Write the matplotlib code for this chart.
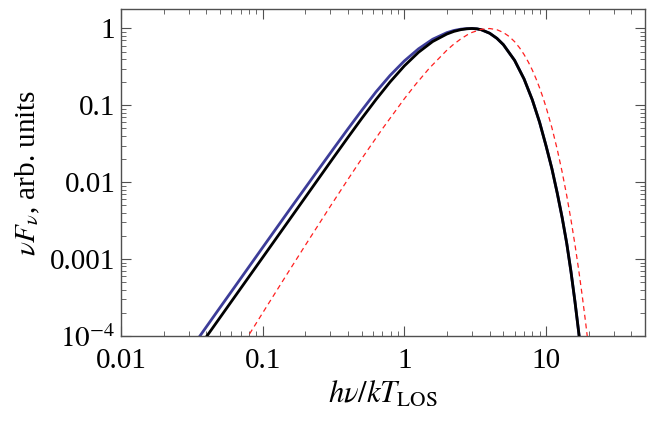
import matplotlib
matplotlib.use("Agg")
import matplotlib.pyplot as plt
from matplotlib.ticker import FixedLocator, FixedFormatter, LogLocator, NullFormatter

# ---- data ----
black_x = [0.0398, 0.0501, 0.0631, 0.1, 0.1585, 0.2512, 0.3162, 0.398, 0.501, 0.631,
           0.794, 1.0, 1.259, 1.585, 1.995, 2.239, 2.512, 2.754, 3.0, 3.25, 3.5, 4.0,
           4.5, 5.0, 6.0, 7.0, 8.0, 9.0, 10.0, 11.0, 12.0, 13.0, 14.0, 15.0, 16.0,
           17.0, 17.5]
black_y = [9.56e-5, 1.74e-4, 3.17e-4, 1.048e-3, 3.47e-3, 0.0115, 0.0209, 0.0378,
           0.0677, 0.119, 0.202, 0.326, 0.490, 0.677, 0.847, 0.917, 0.967, 0.991,
           1.0, 0.99, 0.962, 0.868, 0.745, 0.616, 0.385, 0.220, 0.118, 0.0605,
           0.0298, 0.0150, 7.2e-3, 3.45e-3, 1.6e-3, 6.85e-4, 2.8e-4, 1.12e-4, 7.0e-5]

blue_x = [0.0355, 0.0398, 0.0501, 0.0631, 0.1, 0.1585, 0.2512, 0.3162, 0.398, 0.501,
          0.631, 0.794, 1.0, 1.259, 1.585, 1.995, 2.239, 2.512, 2.754, 3.0, 3.25, 3.5,
          4.0, 4.5, 5.0, 6.0, 7.0, 8.0, 9.0, 10.0, 11.0, 12.0, 13.0, 14.0, 15.0,
          16.0, 17.0, 17.5]
blue_y = [9.56e-5, 1.29e-4, 2.35e-4, 4.27e-4, 1.414e-3, 4.66e-3, 0.01516, 0.02726,
          0.0488, 0.0862, 0.1498, 0.2457, 0.3784, 0.5439, 0.7252, 0.883, 0.943,
          0.981, 0.995, 1.0, 0.99, 0.962, 0.868, 0.745, 0.616, 0.385, 0.220, 0.118,
          0.0605, 0.0298, 0.0150, 7.2e-3, 3.45e-3, 1.6e-3, 6.85e-4, 2.8e-4, 1.12e-4,
          7.0e-5]

red_x = [0.075, 0.08, 0.1, 0.15, 0.2, 0.3, 0.4, 0.5, 0.7, 1.0, 1.2, 1.5, 2.0, 2.2,
         2.5, 2.8, 3.0, 3.5, 4.0, 4.5, 5.0, 5.5, 6.0, 6.5, 7.0, 7.5, 8.0, 8.5, 9.0,
         9.5, 10.0, 11.0, 12.0, 13.0, 14.0, 15.0, 16.0, 17.0, 18.0, 19.0, 20.0]
red_y = [8.5e-5, 1.03e-4, 1.99e-4, 6.54e-4, 1.51e-3, 4.84e-3, 0.01089, 0.0202,
         0.0495, 0.1218, 0.187, 0.304, 0.524, 0.611, 0.731, 0.833, 0.888, 0.977,
         0.999, 0.964, 0.887, 0.786, 0.674, 0.562, 0.458, 0.366, 0.288, 0.2222,
         0.1694, 0.1276, 0.095, 0.0512, 0.02666, 0.01351, 6.68e-3, 3.24e-3,
         1.543e-3, 7.23e-4, 3.34e-4, 1.53e-4, 6.9e-5]

x_ticks = [0.01, 0.1, 1, 10]
x_tick_labels = ["0.01", "0.1", "1", "10"]
y_ticks = [1e-4, 1e-3, 1e-2, 0.1, 1]
y_tick_labels = [r"$10^{-4}$", "0.001", "0.01", "0.1", "1"]

plt.rcParams['font.family'] = ['Liberation Serif', 'DejaVu Serif']
plt.rcParams['mathtext.fontset'] = 'stix'

fig = plt.figure(figsize=(6.47, 4.23), dpi=100)
ax = fig.add_axes([0.187, 0.206, 0.810, 0.773])

ax.plot(blue_x, blue_y, color='#3d3d99', lw=2.0, solid_capstyle='butt',
        solid_joinstyle='round', zorder=2)
ax.plot(black_x, black_y, color='black', lw=2.0, solid_capstyle='butt',
        solid_joinstyle='round', zorder=3)
ax.plot(red_x, red_y, color='#ff2020', lw=0.9, dashes=(4, 3), zorder=4)

ax.set_xscale('log')
ax.set_yscale('log')
ax.set_xlim(0.01, 50)
ax.set_ylim(1e-4, 1.8)

ax.xaxis.set_major_locator(FixedLocator(x_ticks))
ax.xaxis.set_major_formatter(FixedFormatter(x_tick_labels))
ax.yaxis.set_major_locator(FixedLocator(y_ticks))
ax.yaxis.set_major_formatter(FixedFormatter(y_tick_labels))
ax.xaxis.set_minor_locator(LogLocator(base=10, subs=range(2, 10)))
ax.yaxis.set_minor_locator(LogLocator(base=10, subs=range(2, 10)))
ax.xaxis.set_minor_formatter(NullFormatter())
ax.yaxis.set_minor_formatter(NullFormatter())

frame_col = '#505050'
for s in ax.spines.values():
    s.set_color(frame_col)
    s.set_linewidth(1.0)
ax.tick_params(which='both', direction='in', top=True, right=True, colors=frame_col,
               labelcolor='black', labelsize=21)
ax.tick_params(which='major', length=7, width=0.8)
ax.tick_params(axis='x', which='major', pad=9)
ax.tick_params(axis='y', which='major', pad=4)
ax.tick_params(which='minor', length=3.5, width=0.6)

ax.set_xlabel(r"$h\nu/kT_{\mathrm{LOS}}$", fontsize=22, labelpad=4)
ax.set_ylabel(r"$\nu F_\nu$, arb. units", fontsize=21, labelpad=6)

fig.savefig("out.png", dpi=100)
